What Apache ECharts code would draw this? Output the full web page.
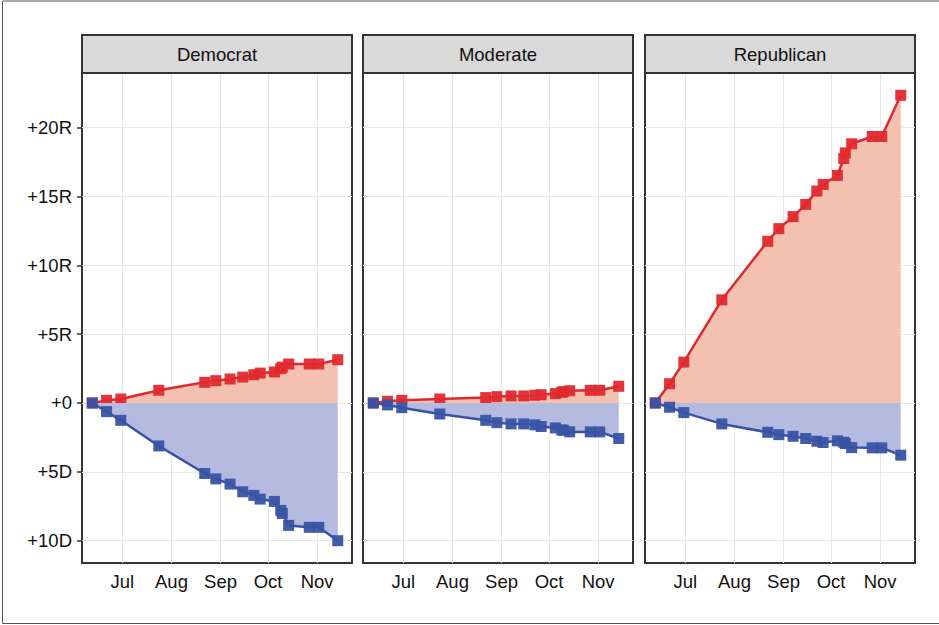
<!DOCTYPE html>
<html>
<head>
<meta charset="utf-8">
<script src="https://cdn.jsdelivr.net/npm/echarts@6/dist/echarts.min.js"></script>
<style>
  html, body { margin: 0; padding: 0; background: #fff; }
  #chart { width: 939px; height: 625px; }
</style>
</head>
<body>
<div id="chart"></div>
<script>
// panels
const panels = ['Democrat', 'Moderate', 'Republican'];

// dates shared by every panel
const dates = [
  '2022-06-12', '2022-06-21', '2022-06-30', '2022-07-24', '2022-08-22',
  '2022-08-29', '2022-09-07', '2022-09-15', '2022-09-22', '2022-09-26',
  '2022-10-05', '2022-10-09', '2022-10-10', '2022-10-14', '2022-10-27',
  '2022-11-02', '2022-11-14'
];

// cumulative R (positive) and D (negative) per panel
const demR = [0, 0.19, 0.29, 0.92, 1.50, 1.62, 1.74, 1.88, 2.05, 2.17, 2.25, 2.49, 2.60, 2.83, 2.83, 2.83, 3.14];
const demD = [0, -0.63, -1.26, -3.12, -5.12, -5.51, -5.89, -6.45, -6.71, -6.98, -7.15, -7.80, -8.02, -8.89, -9.03, -9.03, -10.0];
const modR = [0, 0.12, 0.19, 0.29, 0.39, 0.46, 0.51, 0.51, 0.56, 0.60, 0.68, 0.77, 0.82, 0.89, 0.92, 0.92, 1.21];
const modD = [0, -0.14, -0.34, -0.80, -1.26, -1.43, -1.52, -1.52, -1.59, -1.71, -1.81, -1.96, -1.98, -2.10, -2.10, -2.10, -2.58];
const repR = [0, 1.40, 2.97, 7.49, 11.74, 12.66, 13.53, 14.42, 15.39, 15.87, 16.52, 17.75, 18.16, 18.82, 19.35, 19.35, 22.34];
const repD = [0, -0.31, -0.70, -1.52, -2.13, -2.30, -2.42, -2.58, -2.78, -2.87, -2.75, -2.85, -2.95, -3.24, -3.26, -3.26, -3.79];

const redValues = [demR, modR, repR];
const blueValues = [demD, modD, repD];

// axis ticks
const yTicks = [-10, -5, 0, 5, 10, 15, 20];
const xTicks = ['2022-07-01', '2022-08-01', '2022-09-01', '2022-10-01', '2022-11-01'];
const monthNames = ['Jan', 'Feb', 'Mar', 'Apr', 'May', 'Jun', 'Jul', 'Aug', 'Sep', 'Oct', 'Nov', 'Dec'];

const FONT = '"Liberation Sans", Arial, sans-serif';
const RED = '#E0292E', BLUE = '#3953A4';
const RED_FILL = '#F4C0AF', BLUE_FILL = '#B5BAE0';

const toTime = s => { const p = s.split('-'); return new Date(+p[0], +p[1] - 1, +p[2]).getTime(); };
const xMin = toTime('2022-06-05') + 12 * 3600 * 1000;
const xMax = toTime('2022-11-23');
const xTickVals = xTicks.map(toTime);

const panelLeft = [82, 363, 645];
const panelTop = 73, panelW = 270, panelH = 490;

const yLabel = v => v > 0 ? '+' + v + 'R' : (v < 0 ? '+' + (-v) + 'D' : '+0');

const grids = [], xAxes = [], yAxes = [], series = [], graphics = [];

panels.forEach((name, i) => {
  grids.push({
    left: panelLeft[i], top: panelTop, width: panelW, height: panelH,
    show: true, borderColor: '#333', borderWidth: 2, backgroundColor: '#fff',
    outerBoundsMode: 'none'
  });
  // dates drawn on a numeric (ms) axis so month ticks can be placed exactly
  xAxes.push({
    type: 'value', gridIndex: i, min: xMin, max: xMax,
    axisLine: { show: false },
    axisTick: { show: true, customValues: xTickVals, length: 5, lineStyle: { color: '#333', width: 1.5 } },
    axisLabel: {
      customValues: xTickVals, margin: 9, fontSize: 18.5, color: '#111', fontFamily: FONT,
      formatter: v => monthNames[new Date(v).getMonth()]
    },
    splitLine: { show: true, lineStyle: { color: '#E8E8E8', width: 1 } }
  });
  yAxes.push({
    type: 'value', gridIndex: i, min: -11.62, max: 23.96,
    axisLine: { show: false },
    axisTick: { show: i === 0, customValues: yTicks, length: 5, lineStyle: { color: '#333', width: 1.5 } },
    axisLabel: {
      show: i === 0, customValues: yTicks, margin: 10, fontSize: 18.5, color: '#111', fontFamily: FONT,
      formatter: yLabel
    },
    splitLine: { show: true, lineStyle: { color: '#E8E8E8', width: 1 } }
  });

  series.push({
    name: name + ' R', type: 'line', xAxisIndex: i, yAxisIndex: i,
    data: dates.map((d, k) => [toTime(d), redValues[i][k]]),
    symbol: 'rect', symbolSize: 11, showSymbol: true,
    lineStyle: { color: RED, width: 2.5 },
    itemStyle: { color: RED, opacity: 0.95 },
    areaStyle: { color: RED_FILL, opacity: 1 },
    z: 2
  });
  series.push({
    name: name + ' D', type: 'line', xAxisIndex: i, yAxisIndex: i,
    data: dates.map((d, k) => [toTime(d), blueValues[i][k]]),
    symbol: 'rect', symbolSize: 11, showSymbol: true,
    lineStyle: { color: BLUE, width: 2.5 },
    itemStyle: { color: BLUE, opacity: 0.95 },
    areaStyle: { color: BLUE_FILL, opacity: 1 },
    z: 3
  });

  // facet strip
  graphics.push({
    type: 'rect', shape: { x: panelLeft[i], y: 35, width: panelW, height: 38 },
    style: { fill: '#D9D9D9', stroke: '#333', lineWidth: 2 }, z: 10
  });
  graphics.push({
    type: 'text', x: panelLeft[i] + panelW / 2, y: 54,
    style: { text: name, fill: '#111', font: '18.5px ' + FONT, align: 'center', verticalAlign: 'middle' },
    z: 11
  });
});

// outer figure border
graphics.push({
  type: 'rect', shape: { x: 2.5, y: 1, width: 950, height: 622.5 },
  style: { fill: 'none', stroke: '#555', lineWidth: 1 }, z: 0
});

const chart = echarts.init(document.getElementById('chart'), null, { renderer: 'svg' });
chart.setOption({
  animation: false,
  backgroundColor: '#fff',
  grid: grids,
  xAxis: xAxes,
  yAxis: yAxes,
  series: series,
  graphic: graphics
});
</script>
</body>
</html>
